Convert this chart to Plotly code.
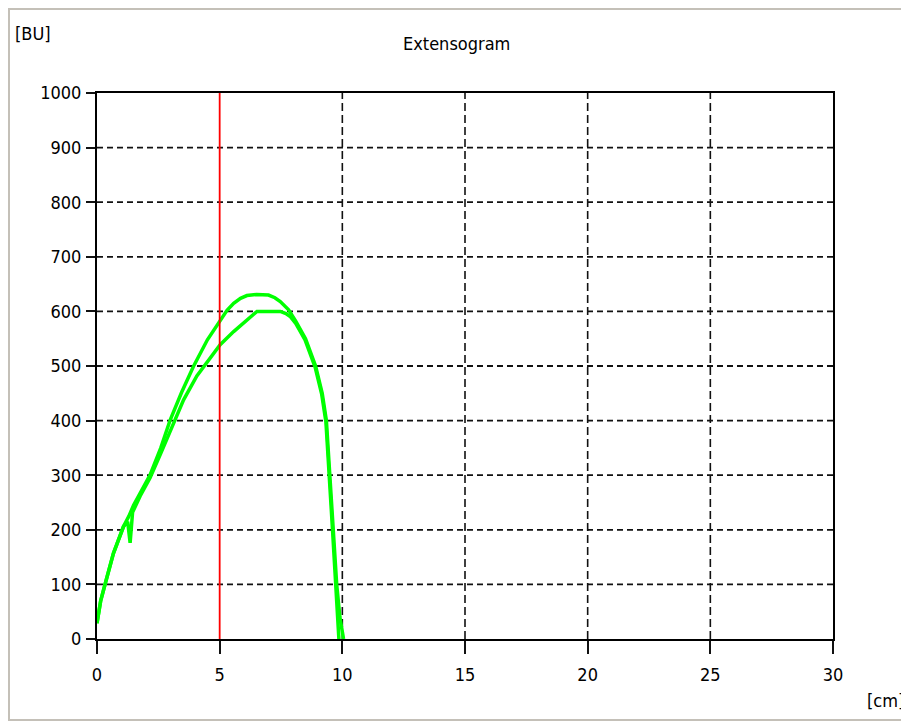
import plotly.graph_objects as go

# ---- data ----
curve1_x = [0, 0.15, 0.34, 0.67, 1.08, 1.3, 1.49, 1.76, 2.16, 2.6, 2.99, 3.45, 3.93, 4.5, 5.02,
            5.3, 5.57, 5.85, 6.11, 6.5, 6.99, 7.25, 7.47, 7.81, 8.1, 8.5, 8.91, 9.18, 9.35,
            9.5, 9.64, 9.77, 9.9, 10.05]
curve1_y = [29, 70, 102, 157, 206, 225, 245, 268, 300, 350, 402, 452, 499, 548, 585,
            602, 615, 624, 629, 631, 630, 625, 618, 603, 582, 550, 500, 450, 400,
            300, 200, 100, 40, 0]

curve2_x = [0, 0.15, 0.34, 0.67, 1.08, 1.25, 1.35, 1.45, 1.76, 2.16, 2.6, 3.05, 3.53, 4.07,
            4.62, 5.02, 5.57, 6.11, 6.35, 6.52, 7.0, 7.47, 7.7, 7.89, 8.1, 8.48, 8.89, 9.16,
            9.33, 9.48, 9.6, 9.73, 9.8, 9.86]
curve2_y = [29, 70, 102, 157, 206, 215, 176, 232, 262, 295, 340, 389, 438, 482,
            515, 539, 563, 585, 594, 600, 600, 600, 596, 590, 578, 548, 498, 448,
            398, 300, 200, 100, 40, 0]

marker_x = [5, 5]
marker_y = [0, 1000]

x_range = [0, 30]
y_range = [0, 1000]
x_ticks = [0, 5, 10, 15, 20, 25, 30]
y_ticks = [0, 100, 200, 300, 400, 500, 600, 700, 800, 900, 1000]

title_text = "Extensogram"
y_unit = "[BU]"
x_unit = "[cm]"

FONT = "DejaVu Sans Condensed, Liberation Sans Narrow, sans-serif"
FS = 18

fig = go.Figure()
fig.add_trace(go.Scatter(x=curve1_x, y=curve1_y, mode="lines",
                         line=dict(color="#00ff00", width=3.5)))
fig.add_trace(go.Scatter(x=curve2_x, y=curve2_y, mode="lines",
                         line=dict(color="#00ff00", width=3.5)))
fig.add_trace(go.Scatter(x=marker_x, y=marker_y, mode="lines",
                         line=dict(color="#ff0000", width=1.8), hoverinfo="skip"))

# the page body adds an 8px offset; design in page pixels and shift
OFF = 8
PW, PH = 909, 723
W, H = PW - OFF, PH - OFF
plot_l, plot_r, plot_t, plot_b = 97, 833, 93, 639
L = plot_l - OFF
T = plot_t - OFF
R = W - (plot_r - OFF)
B = H - (plot_b - OFF)
pw, ph = W - L - R, H - T - B


def px(xp):
    return (xp - OFF - L) / pw


def py(yp):
    return (H - B - (yp - OFF)) / ph


def xfrac(v):
    return (v - x_range[0]) / (x_range[1] - x_range[0])


def yfrac(v):
    return (v - y_range[0]) / (y_range[1] - y_range[0])


GRID = "#111111"
shapes = [dict(type="rect", xref="paper", yref="paper",
               x0=px(9), x1=px(906), y0=py(720), y1=py(9),
               line=dict(color="#c4c0b8", width=2), layer="below")]
for v in x_ticks:
    if v in (x_ticks[0], x_ticks[-1]) or v == marker_x[0]:
        continue
    shapes.append(dict(type="line", xref="paper", yref="paper", x0=xfrac(v), x1=xfrac(v),
                       y0=0, y1=1, layer="below",
                       line=dict(color=GRID, width=1.6, dash="8px,4px")))
for v in y_ticks:
    if v in (y_ticks[0], y_ticks[-1]):
        continue
    shapes.append(dict(type="line", xref="paper", yref="paper", x0=0, x1=1,
                       y0=yfrac(v), y1=yfrac(v), layer="below",
                       line=dict(color=GRID, width=1.8, dash="6px,4px")))

fig.update_layout(
    width=W, height=H,
    margin=dict(l=L, r=R, t=T, b=B),
    paper_bgcolor="white", plot_bgcolor="rgba(0,0,0,0)",
    showlegend=False,
    font=dict(family=FONT, size=FS, color="black"),
    xaxis=dict(range=x_range, tickvals=x_ticks, ticktext=[str(v) for v in x_ticks],
               showgrid=False, zeroline=False, showline=True, linecolor="black",
               linewidth=2, mirror=True, ticks="outside", ticklen=13, tickwidth=1.6,
               tickcolor=GRID, ticklabelstandoff=5, fixedrange=True),
    yaxis=dict(range=y_range, tickvals=y_ticks, ticktext=[str(v) for v in y_ticks],
               showgrid=False, zeroline=False, showline=True, linecolor="black",
               linewidth=2, mirror=True, ticks="outside", ticklen=9, tickwidth=1.8,
               tickcolor=GRID, ticklabelstandoff=1, fixedrange=True),
    shapes=shapes,
    annotations=[
        dict(text=title_text, xref="paper", yref="paper", x=px(456), y=py(43),
             showarrow=False, xanchor="center", yanchor="middle",
             font=dict(family=FONT, size=FS, color="black")),
        dict(text=y_unit, xref="paper", yref="paper", x=px(33), y=py(34),
             showarrow=False, xanchor="center", yanchor="middle",
             font=dict(family=FONT, size=FS, color="black")),
        dict(text=x_unit, xref="paper", yref="paper", x=px(886), y=py(700),
             showarrow=False, xanchor="center", yanchor="middle",
             font=dict(family=FONT, size=FS, color="black")),
    ],
)

fig.write_html("out.html")
